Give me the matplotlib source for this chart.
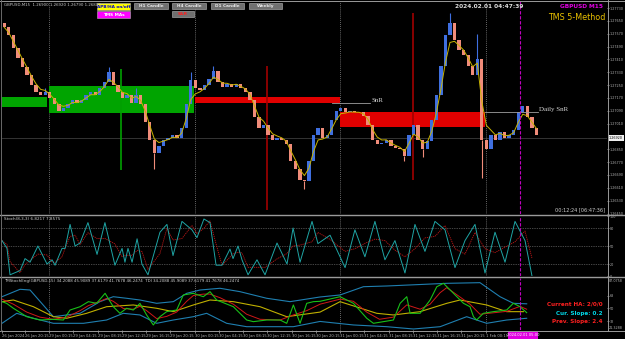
import matplotlib
matplotlib.use("Agg")
import matplotlib.pyplot as plt
import pandas as pd
from matplotlib.patches import Rectangle

W, H = 625, 339

# ---------------- values ----------------
# x axis is counted in M15 bars from the left edge; one drawn candle = 3 bars
closes = [
    1.2761, 1.2756, 1.2748, 1.2742, 1.2736, 1.2731, 1.2725, 1.2721, 1.2719, 1.2721,
    1.2717, 1.2713, 1.2709, 1.2711, 1.2713, 1.2716, 1.2714, 1.2716, 1.2719, 1.2721,
    1.2719, 1.2723, 1.2727, 1.2733, 1.2725, 1.2721, 1.2717, 1.2719, 1.2714, 1.2719,
    1.2713, 1.2702, 1.2691, 1.2683, 1.2687, 1.2691, 1.2692, 1.2694, 1.2692, 1.2698,
    1.2713, 1.2728, 1.2723, 1.2722, 1.2725, 1.2729, 1.2734, 1.2727, 1.2724, 1.2726,
    1.2724, 1.2726, 1.2723, 1.2721, 1.2716, 1.2705, 1.2698, 1.2700, 1.2694, 1.2691,
    1.2692, 1.2691, 1.2688, 1.2678, 1.2673, 1.2666, 1.2665, 1.2678, 1.2694, 1.2698,
    1.2692, 1.2694, 1.2703, 1.2709, 1.2711, 1.2708, 1.2709, 1.2708, 1.2708, 1.2706,
    1.2700, 1.2691, 1.2688, 1.2689, 1.2691, 1.2687, 1.2686, 1.2685, 1.2681, 1.2694,
    1.2700, 1.2691, 1.2685, 1.2690, 1.2703, 1.2719, 1.2737, 1.2756, 1.2764, 1.2753,
    1.2747, 1.2744, 1.2737, 1.2731, 1.2741, 1.2691, 1.2685, 1.2694, 1.2691, 1.2696,
    1.2692, 1.2694, 1.2697, 1.2708, 1.2712, 1.2705, 1.2698, 1.2694,
]
first_open = 1.2764
wick_idx = [9, 23, 29, 33, 41, 46, 66, 88, 92, 98, 104, 105]
wick_end = [1.2723, 1.2736, 1.2723, 1.2673, 1.2733, 1.2737, 1.2660, 1.2678, 1.2680, 1.2770, 1.2757, 1.2667]

zone_start = [0, 31, 127, 223]
zone_end = [29.7, 126.6, 223, 318.6]
zone_top = [1.27175, 1.27244, 1.27175, 1.27082]
zone_bottom = [1.27113, 1.27076, 1.27138, 1.26989]
zone_colors = ["#00a400", "#00a400", "#e00000", "#e00000"]

signal_x = [78.5, 174.8, 271]
signal_low = [1.2672, 1.2647, 1.2666]
signal_high = [1.2735, 1.2737, 1.2770]
signal_colors = ["#00a000", "#a00000", "#a00000"]

snr_x = [217.7, 242.7]
snr_price = 1.27138
daily_snr_x = [318.6, 353.6]
daily_snr_price = 1.27082

day_breaks = [31, 127, 223, 319]
now_bar = 342
bid = 1.2692

# the 1.26930 level sits under the bid box
price_ticks = [1.26450, 1.26530, 1.26610, 1.26690, 1.26770, 1.26850, 1.27010, 1.27090,
               1.27170, 1.27250, 1.27330, 1.27410, 1.27490, 1.27570, 1.27650, 1.27730]

time_ticks = [0, 15, 31, 47, 63, 79, 95, 111, 127, 143, 159, 175, 191, 207, 223, 239, 255, 271, 287, 303, 319]
time_labels = ["26 Jan 2024", "26 Jan 20:15", "29 Jan 00:15", "29 Jan 04:15", "29 Jan 08:15",
               "29 Jan 12:15", "29 Jan 16:15", "29 Jan 20:15", "30 Jan 00:15", "30 Jan 04:15",
               "30 Jan 08:15", "30 Jan 12:15", "30 Jan 16:15", "30 Jan 20:15", "31 Jan 00:15",
               "31 Jan 04:15", "31 Jan 08:15", "31 Jan 12:15", "31 Jan 16:15", "31 Jan 20:15",
               "1 Feb 00:15"]

# stochastic %K
stoch_x = [0, 3.3, 5.3, 11.9, 15.2, 18.5, 23.7, 29.7, 33, 35,
           39.6, 41.6, 44.9, 48.2, 51.5, 56.7, 62.7, 67.9, 74.5, 79.2,
           81.1, 83.1, 85.8, 89.1, 92.3, 96.3, 104.2, 108.8, 112.8, 118.7,
           125.3, 128.6, 133.2, 137.2, 141.2, 145.1, 150.4, 152.4, 155.7, 158.3,
           162.3, 168.2, 173.5, 181.4, 188, 192, 196.6, 204.5, 208.4, 216.4,
           226.3, 232.8, 239.4, 246, 252.6, 259.2, 265.8, 272.4, 279, 285.6,
           292.2, 298.8, 305.4, 312, 318.6, 325.2, 331.8, 338.4, 345, 349.6]
stoch_k = [59, 46, 2, 9, 29, 23, 50, 20, 27, 18,
           46, 46, 86, 50, 55, 89, 36, 89, 18, 46,
           23, 46, 23, 62, 20, 2, 73, 86, 34, 91,
           77, 64, 95, 89, 18, 18, 45, 29, 50, 27,
           2, 27, 2, 55, 20, 80, 23, 91, 54, 68,
           14, 77, 32, 91, 27, 59, 5, 86, 41, 91,
           77, 14, 59, 86, 5, 73, 23, 91, 59, 0]

# TDI panel
tdi_green_x = [0, 3, 7.5, 16.3, 25, 33.9, 40.5, 44.9, 51.5, 57, 62.4, 68, 73.4, 77.8, 82.2, 86.6,
               91, 95.4, 99.8, 104.2, 108.6, 115.2, 119.6, 126.2, 132.8, 137.2, 141.6, 152.6,
               161.4, 165.8, 174.6, 183.4, 187.8, 192.2, 196.6, 201, 205.4, 209.8, 223, 231.8,
               240.6, 245, 258.2, 262.6, 267, 269.2, 275.8, 282.4, 286.8, 291.2, 297.8, 304.4,
               308.7, 311, 313.1, 317.5, 324.1, 332.9, 337.3, 341.7, 346.1]
tdi_green = [59.5, 57.2, 50.3, 38.6, 34, 34.9, 34, 47.9, 52.5, 59.5, 57.2, 71.1, 52.5, 43.3, 50.3, 47.9,
             57.2, 41, 27.1, 38.6, 45.6, 47.9, 68.8, 71.1, 66.4, 73.4, 61.8, 52.5,
             34, 31.7, 34, 34, 29.4, 54.9, 29.4, 57.2, 59.5, 60, 66.4, 57.2,
             36.4, 29.4, 34, 57.2, 66.4, 43.3, 43.3, 61.8, 80.3, 85, 71.1, 57.2,
             52.5, 38.6, 34, 43.3, 45.6, 47.9, 57.2, 52.5, 44.2]
tdi_red_x = [0, 7.5, 16.3, 25, 33.9, 42.7, 51.5, 57, 64.6, 69, 73.4, 80, 86.6, 91, 95.4, 102,
             108.6, 115.2, 121.8, 126.2, 132.8, 137.2, 143.8, 152.6, 161.4, 170.2, 183.4, 192.2,
             201, 209.8, 223, 231.8, 240.6, 249, 258.2, 267, 275.8, 282.4, 289, 293.4, 302.1,
             308.7, 315.3, 324.1, 332.9, 341.7, 346.1]
tdi_red = [63, 56, 45, 38, 35, 38, 47, 54, 60, 64, 60, 50, 49, 53, 47, 36,
           39, 45, 60, 68, 70, 70, 65, 56, 42, 35, 34, 41,
           47, 56, 63, 60, 45, 35, 38, 55, 49, 56, 72, 79, 66,
           56, 42, 44, 46, 53, 49]
tdi_mid_x = [0, 7.5, 20.7, 33.9, 42.7, 55.8, 69, 86.6, 102, 113, 126.2, 137.2, 152.6, 170.2,
             187.8, 209.8, 223, 247.2, 258.2, 275.8, 293.4, 302.1, 319.7, 332.9, 343.9]
tdi_mid = [59.5, 61.8, 52.5, 38.6, 36.4, 43.3, 52.5, 54.9, 50.3, 45.6, 54.9, 61.8, 59.5, 52.5,
           38.6, 45, 59.5, 43.3, 41, 45.6, 57.2, 61.8, 54.9, 45.6, 45.6]
band_up_x = [0, 11.9, 18.5, 33.9, 42.7, 51.5, 64.6, 73.4, 82.2, 91, 102, 113, 121.8, 130.6,
             143.8, 157, 174.6, 190, 209.8, 223, 238.4, 253.8, 293.4, 315.3, 328.5, 337.3, 346.1]
band_up = [66.4, 76.7, 75.7, 38.6, 41, 43.3, 59.5, 66.4, 64.2, 61.8, 57.2, 59.5, 71.1, 75.7,
           78.1, 73.4, 64.2, 59.5, 66, 68.8, 80.3, 81.3, 85, 85.9, 66.4, 57.2, 56.5]
band_lo_x = [0, 9.7, 20.7, 33.9, 53.7, 69, 80, 91, 102, 113, 126.2, 135, 148.2, 161.4, 174.6,
             192.2, 209.8, 231.8, 253.8, 271.4, 289, 306.5, 319.7, 332.9, 346.1]
band_lo = [29.4, 43.3, 36.4, 29.4, 29.4, 34, 43.3, 41, 29.4, 34, 38.6, 43.3, 29.4, 24.7, 24.7,
           24.7, 32, 27.1, 24.7, 21.5, 24.7, 38.6, 29.4, 34, 36.4]

# ---------------- figure ----------------
fig = plt.figure(figsize=(W / 100, H / 100), dpi=100, facecolor="black")
RIGHT = 607  # right edge of the chart area, price scale sits to its right


def panel(y0, y1):
    ax = fig.add_axes([2 / W, 1 - y1 / H, (RIGHT - 2) / W, (y1 - y0) / H])
    ax.set_facecolor("black")
    for s in ax.spines.values():
        s.set_visible(False)
    ax.set_xlim(0, (RIGHT - 2) / 1.516)
    ax.yaxis.tick_right()
    ax.tick_params(axis="y", colors="#b0b0b0", labelsize=2.4, length=1.2, width=0.5, pad=0.5)
    ax.tick_params(axis="x", bottom=False, labelbottom=False)
    return ax


main = panel(1, 214)
stoch = panel(216, 276)
tdi = panel(278, 330)

# main price panel
main.set_ylim(1.26447, 1.27774)
main.set_yticks(price_ticks)
main.set_yticklabels([f"{p:.5f}" for p in price_ticks])

for x0, x1, top, bot, col in zip(zone_start, zone_end, zone_top, zone_bottom, zone_colors):
    main.add_patch(Rectangle((x0, bot), x1 - x0, top - bot, facecolor=col, lw=0, zorder=2))

main.axhline(bid, color="#3c3c3c", lw=0.6, zorder=1)
main.vlines(signal_x, signal_low, signal_high, colors=signal_colors, lw=1.2, zorder=2.5)

opens = [first_open] + closes[:-1]
xc = [3 * i + 1.5 for i in range(len(closes))]
body_low = [min(o, c) for o, c in zip(opens, closes)]
body_h = [max(abs(c - o), 0.00005) for o, c in zip(opens, closes)]
cols = ["#3f6fe0" if c >= o else "#f08c7a" for o, c in zip(opens, closes)]
main.bar(xc, body_h, bottom=body_low, width=2.2, color=cols, linewidth=0, zorder=3)
main.vlines([xc[i] for i in wick_idx], [closes[i] for i in wick_idx], wick_end,
            colors=[cols[i] for i in wick_idx], lw=0.8, zorder=3)
ma = pd.Series(closes).ewm(span=3).mean()
main.plot(xc, ma, color="#c8b400", lw=0.7, zorder=4)

main.plot(snr_x, [snr_price] * 2, color="#a0a0a0", lw=0.6, zorder=4)
main.text(snr_x[1] + 1, snr_price, "SnR", color="#d8d8d8", fontsize=5,
          family="Liberation Serif", va="bottom", zorder=5)
main.plot(daily_snr_x, [daily_snr_price] * 2, color="#a0a0a0", lw=0.6, zorder=4)
main.text(daily_snr_x[1] + 0.5, daily_snr_price, "Daily SnR", color="#d8d8d8", fontsize=5,
          family="Liberation Serif", va="bottom", zorder=5)

# stochastic panel
stoch.set_ylim(0, 100)
stoch.set_yticks([100, 80, 50, 20, 0])
stoch.set_yticklabels(["100", "80", "50", "20", "0"])
for lvl in (80, 50, 20):
    stoch.axhline(lvl, color="#8a8a8a", lw=0.5, ls=(0, (1, 1.5)))
stoch.plot(stoch_x, stoch_k, color="#1fa5a5", lw=0.7, zorder=3)
stoch.plot(stoch_x, pd.Series(stoch_k).rolling(2, min_periods=1).mean(),
           color="#c01818", lw=0.6, ls=(0, (1.5, 1)), zorder=2)

# TDI panel
tdi.set_ylim(20.1, 92.4)
tdi.set_yticks([68, 50, 32])
tdi.set_yticklabels(["68", "50", "32"])
tdi.plot(band_up_x, band_up, color="#1f7fb0", lw=0.8)
tdi.plot(band_lo_x, band_lo, color="#1f7fb0", lw=0.8)
tdi.plot(tdi_mid_x, tdi_mid, color="#c0b000", lw=0.8)
tdi.plot(tdi_red_x, tdi_red, color="#d01818", lw=0.7)
tdi.plot(tdi_green_x, tdi_green, color="#18c018", lw=0.8)
tdi.set_xticks(time_ticks)
tdi.set_xticklabels(time_labels, ha="left")
tdi.tick_params(axis="x", bottom=True, labelbottom=True, colors="#b0b0b0",
                labelsize=2.7, length=2, width=0.5, pad=0.8)

for ax in (main, stoch, tdi):
    for b in day_breaks:
        ax.axvline(b, color="#8a8a8a", lw=0.6, ls=(0, (1, 1.5)), zorder=1.5)
    ax.axvline(now_bar, color="#c000c0", lw=0.8, ls=(0, (3, 1.5)), zorder=6)

# ---------------- terminal decorations (pixel overlay) ----------------
ov = fig.add_axes([0, 0, 1, 1], zorder=10)
ov.set_xlim(0, W)
ov.set_ylim(H, 0)
ov.axis("off")
ov.patch.set_alpha(0)

for y in (0.5, 215, 277, 330.5):
    ov.plot([0, W], [y, y], color="#9a9a9a", lw=1.0 if y in (215, 277) else 0.7)
ov.plot([RIGHT + 0.5] * 2, [0, 331], color="#9a9a9a", lw=0.7)
ov.plot([1, 1], [0, 331], color="#6a6a6a", lw=0.7)

ov.text(4, 5, "GBPUSD,M15  1.26900 1.26920 1.26790 1.26800", color="#c8c8c8", fontsize=2.8, va="center")

buttons = [("APB/HA on/off", 97, 3, 33, 7, "#ffff00", "#0000c8"),
           ("TMS MAs", 97, 11, 33, 6.5, "#ff00ff", "#ffffff"),
           ("H1 Candle", 134, 3, 34, 6, "#707070", "#e8e8e8"),
           ("H4 Candle", 172, 3, 34, 6, "#707070", "#e8e8e8"),
           ("D1 Candle", 211, 3, 33, 6, "#707070", "#e8e8e8"),
           ("Weekly", 249, 3, 33, 6, "#707070", "#e8e8e8"),
           ("S&R", 172, 11, 22, 6, "#707070", "#ff2020")]
for label, bx, by, bw, bh, fc, tc in buttons:
    ov.add_patch(Rectangle((bx, by), bw, bh, facecolor=fc, edgecolor="#b8b8b8", lw=0.4))
    ov.text(bx + bw / 2, by + bh / 2 + 0.3, label, color=tc, fontsize=3.1, weight="bold",
            ha="center", va="center")

ov.text(489, 6, "2024.02.01 04:47:39", color="#e0e0e0", fontsize=4.2, weight="bold", ha="center", va="center")
ov.text(603, 7, "GBPUSD M15", color="#e000e0", fontsize=4.2, weight="bold", ha="right", va="center")
ov.text(605, 18, "TMS 5-Method", color="#e8c000", fontsize=5.8, ha="right", va="center")
ov.text(605, 210, "00:12:24 [06:47:36]", color="#d0d0d0", fontsize=3.6, ha="right", va="center")

ov.add_patch(Rectangle((608, 135.3), 16, 5.6, facecolor="#f0f0f0", lw=0))
ov.text(616, 138.2, "1.26920", color="#000000", fontsize=2.4, ha="center", va="center")

ov.text(4, 219, "Stoch(8,3,3) 6.8217 7.8575", color="#d0d0d0", fontsize=3.0, va="center")
ov.text(4, 281, "TMStochEng(GBPUSD,15) 34.2088 45.9089 37.6179 41.7678 46.2474  "
        "TDI 34.2088 45.9089 37.6179 41.7678 46.2474", color="#d0d0d0", fontsize=2.9, va="center")
ov.text(609, 280.5, "87.0758", color="#b0b0b0", fontsize=2.4, va="center")
ov.text(609, 328, "21.3288", color="#b0b0b0", fontsize=2.4, va="center")

ov.text(603, 304, "Current HA: 2/0/0", color="#ff2020", fontsize=4.1, weight="bold", ha="right", va="center")
ov.text(603, 314, "Cur. Slope: 0.2", color="#00d8e8", fontsize=4.1, weight="bold", ha="right", va="center")
ov.text(603, 322, "Prev. Slope: 2.4", color="#ff2020", fontsize=4.1, weight="bold", ha="right", va="center")

ov.add_patch(Rectangle((508, 331.5), 30, 7, facecolor="#e000e0", lw=0))
ov.text(523, 335, "2024.02.01 05:00", color="#ffffff", fontsize=2.6, ha="center", va="center")

fig.savefig("out.png", dpi=100, facecolor="black")
